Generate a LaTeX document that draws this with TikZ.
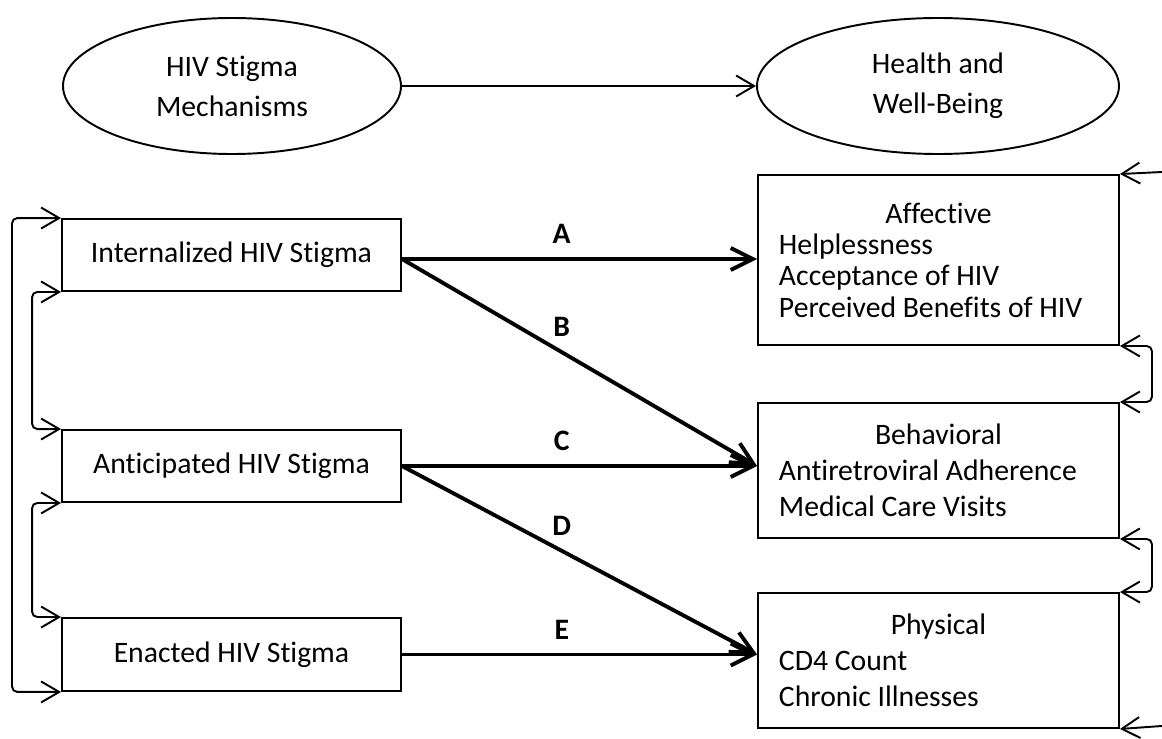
\documentclass[tikz,border=0pt]{standalone}
\usepackage{fontspec}
\setmainfont{Carlito}[Ligatures=NoCommon]
\usetikzlibrary{shapes.geometric,arrows.meta}

\begin{document}
\begin{tikzpicture}[>={Straight Barb[length=1.8mm,width=2.1mm]}, font=\fontsize{8.45}{10.3}\selectfont,
		oval/.style={draw, ellipse, line width=0.55pt, inner sep=0pt, minimum height=1.36cm, align=center, font=\fontsize{8.45}{11.4}\selectfont},
		mech/.style={draw, line width=0.55pt, minimum width=3.39cm, minimum height=0.72cm, inner sep=0pt},
		outcome/.style={draw, line width=0.55pt, text width=3.19cm, inner xsep=0.21cm, inner ysep=0pt, align=flush left},
		link/.style={line width=0.55pt, rounded corners=1.5pt},
		effect/.style={line width=1.1pt, -{Straight Barb[length=2.2mm,width=2.2mm]}},
		lab/.style={font=\fontsize{8.45}{9}\selectfont\bfseries, inner sep=0pt, above=1.35mm, pos=.45}]
		\useasboundingbox (0,0) rectangle (11.62,-7.39);
		\node[oval, minimum width=3.38cm] (mech) at (2.32,-0.86) {HIV Stigma\\Mechanisms};
		\node[oval, minimum width=3.62cm] (health) at (9.38,-0.86) {Health and\\Well-Being};
		\node[mech] (int) at (2.315,-2.55) {Internalized HIV Stigma};
		\node[mech] (ant) at (2.315,-4.66) {Anticipated HIV Stigma};
		\node[mech, minimum height=0.73cm] (ena) at (2.315,-6.545) {Enacted HIV Stigma};
		\node[outcome, minimum height=1.70cm, font=\fontsize{8.45}{8.9}\selectfont] (aff) at (9.385,-2.60) {\makebox[\linewidth]{Affective}\\Helplessness\\Acceptance of HIV\\Perceived Benefits of HIV};
		\node[outcome, minimum height=1.35cm] (beh) at (9.385,-4.705) {\makebox[\linewidth]{Behavioral}\\Antiretroviral Adherence\\Medical Care Visits};
		\node[outcome, minimum height=1.35cm] (phys) at (9.385,-6.605) {\makebox[\linewidth]{Physical}\\CD4 Count\\Chronic Illnesses};
		\coordinate (top) at (11.62,-1.72);
		\coordinate (bot) at (11.62,-7.26);
		\draw[link, ->] (mech) -- (health);
		\draw[effect] ([yshift=-0.4mm]int.east) -- ([yshift=-0.4mm]int.east -| aff.west) node[lab] {A};
		\draw[effect] ([yshift=-0.4mm]int.east) -- (ant.east -| beh.west) node[lab] {B};
		\draw[effect] (ant.east) -- (ant.east -| beh.west) node[lab] {C};
		\draw[effect] (ant.east) -- (ena.east -| phys.west) node[lab] {D};
		\draw[effect] (ena.east) -- (ena.east -| phys.west) node[lab] {E};
		\draw[link, <->] (int.north west) -- ++(-0.49,0) |- (ena.south west);
		\draw[link, <->] (int.south west) -- ++(-0.29,0) |- (ant.north west);
		\draw[link, <->] (ant.south west) -- ++(-0.29,0) |- (ena.north west);
		\draw[link, <->] (aff.south east) -- ++(0.32,0) |- (beh.north east);
		\draw[link, <->] (beh.south east) -- ++(0.32,0) |- (phys.north east);
		\draw[link, ->] (top) -- (aff.north east);
		\draw[link, ->] (bot) -- (phys.south east);
	\end{tikzpicture}
\end{document}
